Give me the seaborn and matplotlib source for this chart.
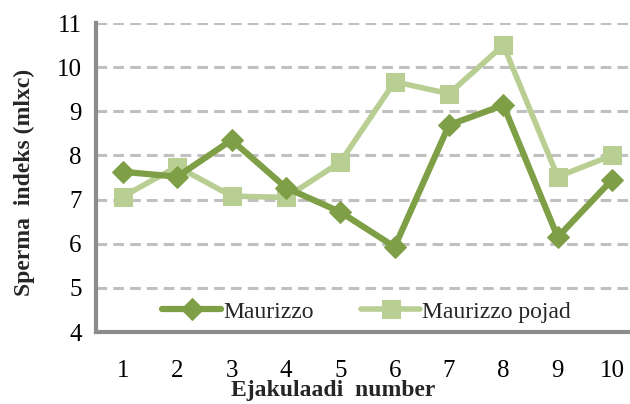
import pandas as pd
import numpy as np
import matplotlib
matplotlib.use("Agg")
import matplotlib.pyplot as plt
import seaborn as sns

# =========================
# DATA
# =========================
ejakulaat = [1, 2, 3, 4, 5, 6, 7, 8, 9, 10]
maurizzo = [7.63, 7.52, 8.35, 7.27, 6.72, 5.93, 8.69, 9.14, 6.15, 7.45]
maurizzo_pojad = [7.07, 7.75, 7.08, 7.05, 7.85, 9.67, 9.40, 10.50, 7.52, 8.00]

df = pd.DataFrame({"x": ejakulaat, "Maurizzo": maurizzo, "Maurizzo pojad": maurizzo_pojad})

dark_green = "#7F9F47"
light_green = "#B8CE92"

# =========================
# PLOT
# =========================
sns.set_style("white")
plt.rcParams["font.family"] = ["Liberation Serif", "DejaVu Serif"]

fig = plt.figure(figsize=(6.3, 4.04), dpi=100)
ax = fig.add_axes([0.152, 0.178, 0.848, 0.765])

sns.lineplot(data=df, x="x", y="Maurizzo", ax=ax, color=dark_green,
             linewidth=4.5, marker="D", markersize=11, markeredgecolor=dark_green,
             label="Maurizzo", zorder=3)
sns.lineplot(data=df, x="x", y="Maurizzo pojad", ax=ax, color=light_green,
             linewidth=4.0, marker="s", markersize=13, markeredgecolor=light_green,
             label="Maurizzo pojad", zorder=2)

ax.set_xlim(0.5, 10.33)
ax.set_ylim(4, 11)
ax.set_xticks(ejakulaat)
ax.set_yticks(range(4, 12))
ax.tick_params(axis="both", length=0, labelsize=18, colors="black")
ax.tick_params(axis="x", pad=20)
ax.tick_params(axis="y", pad=10)

ax.yaxis.grid(True, linestyle=(0, (3.5, 2)), color="#C0C0C0", linewidth=2.2)
ax.set_axisbelow(True)

for side in ["top", "right"]:
    ax.spines[side].set_visible(False)
for side in ["left", "bottom"]:
    ax.spines[side].set_color("#8C8C8C")
    ax.spines[side].set_linewidth(3)

ax.set_xlabel("Ejakulaadi  number", fontsize=17, fontweight="bold")
ax.set_ylabel("Sperma  indeks (mlxc)", fontsize=17, fontweight="bold")
ax.xaxis.set_label_coords(0.444, -0.155)
ax.yaxis.set_label_coords(-0.114, 0.485)

ax.legend(loc="center", bbox_to_anchor=(0.507, 0.065), ncol=2, frameon=False,
          fontsize=17, handlelength=2.5, columnspacing=2.0, handletextpad=0.1)

fig.savefig("out.png", dpi=100)
